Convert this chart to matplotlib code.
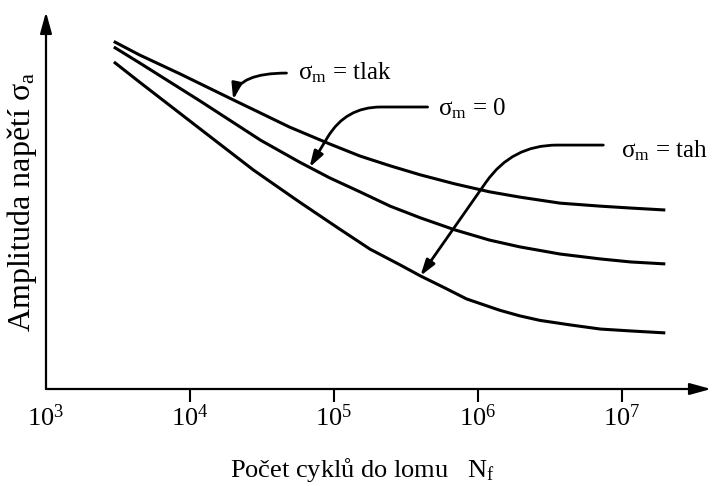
import numpy as np
import matplotlib.pyplot as plt
from matplotlib.ticker import NullLocator

plt.rcParams['font.family'] = ['Liberation Serif', 'DejaVu Serif']
plt.rcParams['mathtext.fontset'] = 'custom'
plt.rcParams['mathtext.rm'] = 'Liberation Serif'
plt.rcParams['mathtext.it'] = 'Liberation Serif:italic'

# S-N curves: log10 of cycles to failure vs. stress amplitude (relative units)
log_n_tlak = [3.48, 3.65, 3.93, 4.30, 4.49, 4.69, 4.97, 5.18, 5.39, 5.60, 5.84,
              6.08, 6.29, 6.57, 6.85, 7.06, 7.29]
amp_tlak = [92.0, 88.6, 83.6, 76.7, 73.2, 69.5, 65.0, 61.8, 59.2, 56.8, 54.4,
            52.3, 50.9, 49.3, 48.5, 48.0, 47.5]

log_n_0 = [3.48, 3.65, 4.07, 4.49, 4.76, 4.97, 5.18, 5.39, 5.60, 5.84, 6.08,
           6.29, 6.57, 6.85, 7.06, 7.29]
amp_0 = [90.5, 86.5, 76.4, 66.0, 60.2, 56.0, 52.3, 48.5, 45.4, 42.2, 39.5,
         37.7, 35.8, 34.5, 33.7, 33.2]

log_n_tah = [3.48, 3.65, 4.07, 4.44, 4.76, 5.04, 5.25, 5.46, 5.60, 5.77, 5.92,
             6.15, 6.29, 6.43, 6.64, 6.85, 7.06, 7.29]
amp_tah = [86.5, 81.4, 69.0, 58.1, 49.6, 42.4, 37.1, 32.9, 30.0, 26.8, 23.9,
           20.9, 19.4, 18.2, 17.0, 15.9, 15.4, 14.9]

decades = [3, 4, 5, 6, 7]

# pointer labels: curve name, log N of the arrow tip, text anchor and arrow start (log N, amp)
labels = ['tlak', '0', 'tah']
tip_log_n = [4.30, 4.83, 5.60]
text_pos = [(4.75, 82.2), (5.72, 72.7), (6.99, 61.5)]
arrow_start = [(4.67, 83.8), (5.65, 74.8), (6.87, 64.7)]
connections = ['angle3,angleA=0,angleB=78',
               'angle,angleA=0,angleB=59,rad=35',
               'angle,angleA=0,angleB=55,rad=45']

curves = [(log_n_tlak, amp_tlak), (log_n_0, amp_0), (log_n_tah, amp_tah)]

fig = plt.figure(figsize=(7.12, 4.86), dpi=100)
ax = fig.add_axes([46 / 712, 97 / 486, 665 / 712, 377 / 486])
ax.set_xscale('log')
ax.set_xlim(1e3, 10 ** (3 + 665 / 144))
ax.set_ylim(0, 100)

for ln, amp in curves:
    ax.plot(10 ** np.array(ln), amp, color='black', lw=2.2, solid_joinstyle='round')

for name, (ln, amp), tl, tp, st, conn in zip(labels, curves, tip_log_n, text_pos,
                                             arrow_start, connections):
    tip_y = np.interp(tl, ln, amp)
    ax.annotate('', xy=(10 ** tl, tip_y), xytext=(10 ** st[0], st[1]),
                arrowprops=dict(arrowstyle='-|>,head_length=0.95,head_width=0.3',
                                connectionstyle=conn, color='black', lw=2.0,
                                mutation_scale=10, shrinkA=0, shrinkB=0))
    ax.text(10 ** tp[0], tp[1], r'$\mathrm{\sigma_m}$ = ' + name, fontsize=18,
            ha='left', va='baseline')

# axes drawn as arrows
for spine in ax.spines.values():
    spine.set_visible(False)
arrow_kw = dict(arrowstyle='-|>,head_length=0.8,head_width=0.22', color='black',
                lw=1.6, mutation_scale=16, shrinkA=0, shrinkB=0)
ax.annotate('', xy=(1, 0), xytext=(0, 0), xycoords='axes fraction', arrowprops=arrow_kw)
ax.annotate('', xy=(0, 1), xytext=(0, 0), xycoords='axes fraction', arrowprops=arrow_kw)

ax.set_xticks([10.0 ** d for d in decades])
ax.set_xticklabels([f'$\\mathrm{{10^{{{d}}}}}$' for d in decades])
ax.xaxis.set_minor_locator(NullLocator())
ax.tick_params(axis='x', direction='out', length=9, width=1.5, pad=2, labelsize=19)
ax.xaxis.get_major_ticks()[0].tick1line.set_visible(False)
ax.set_yticks([])

fig.text(362 / 712, 1 - 470 / 486, r'Počet cyklů do lomu   $\mathrm{N_f}$',
         fontsize=19, ha='center', va='center')
fig.text(22 / 712, 1 - 202 / 486, r'Amplituda napětí $\mathrm{\sigma_a}$',
         fontsize=23, ha='center', va='center', rotation=90)

fig.savefig('out.png', dpi=100)
